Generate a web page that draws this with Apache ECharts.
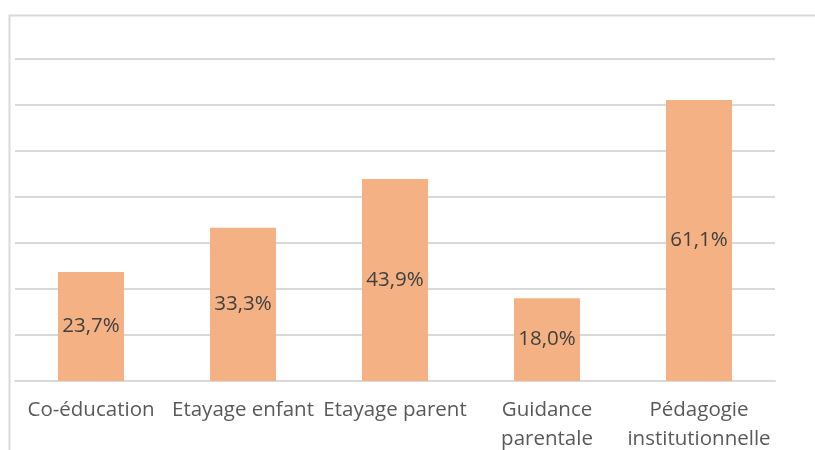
<!DOCTYPE html>
<html>
<head>
<meta charset="utf-8">
<script src="https://cdn.jsdelivr.net/npm/echarts@6/dist/echarts.min.js"></script>
<style>
  html, body { margin: 0; padding: 0; background: #fff; }
  #chart { width: 815px; height: 450px; }
</style>
</head>
<body>
<div id="chart"></div>
<script>
// catégories et valeurs (%)
const categories = ['Co-éducation', 'Etayage enfant', 'Etayage parent', 'Guidance\nparentale', 'Pédagogie\ninstitutionnelle'];
const values = [23.7, 33.3, 43.9, 18.0, 61.1];

const chart = echarts.init(document.getElementById('chart'));

const option = {
  animation: false,
  backgroundColor: '#fff',
  textStyle: { fontFamily: 'Open Sans' },
  graphic: [
    {
      type: 'rect',
      shape: { x: 9.5, y: 15.5, width: 900, height: 600 },
      style: { fill: 'none', stroke: '#d9d9d9', lineWidth: 2 },
      silent: true
    }
  ],
  grid: { left: 15, right: 40, top: 59, bottom: 69, outerBoundsMode: 'none' },
  xAxis: {
    type: 'category',
    data: categories,
    axisLine: { lineStyle: { color: '#d9d9d9', width: 2 } },
    axisTick: { show: false },
    axisLabel: {
      interval: 0,
      color: '#595959',
      fontSize: 20.5,
      lineHeight: 29,
      margin: 15
    }
  },
  yAxis: {
    type: 'value',
    min: 0,
    max: 70,
    interval: 10,
    axisLabel: { show: false },
    axisLine: { show: false },
    axisTick: { show: false },
    splitLine: { lineStyle: { color: '#d9d9d9', width: 2 } }
  },
  series: [
    {
      type: 'bar',
      data: values,
      barWidth: 66,
      itemStyle: { color: '#F4B183' },
      label: {
        show: true,
        position: 'inside',
        color: '#404040',
        fontSize: 20.5,
        formatter: p => p.value.toFixed(1).replace('.', ',') + '%'
      }
    }
  ]
};

chart.setOption(option);
</script>
</body>
</html>
